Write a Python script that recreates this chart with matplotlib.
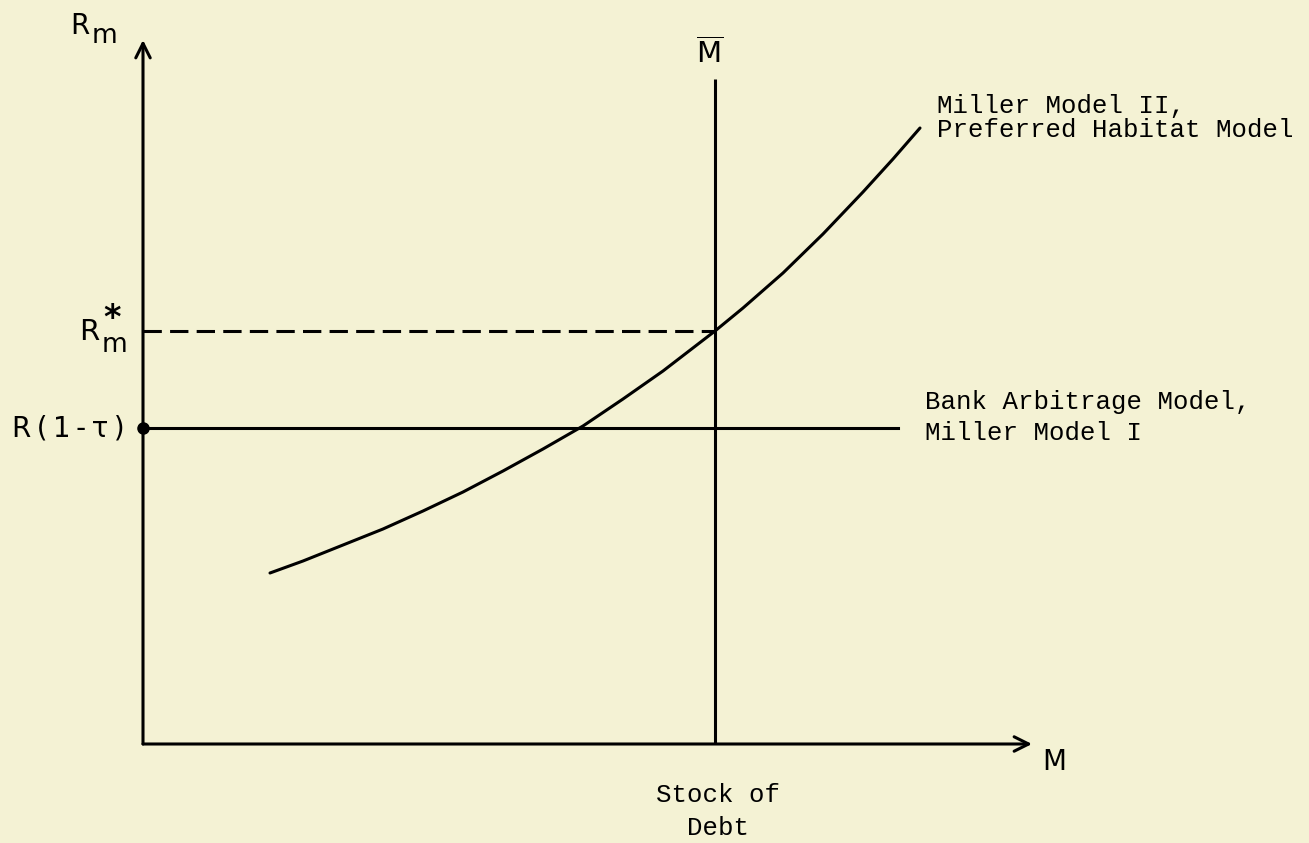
import matplotlib
matplotlib.use('Agg')
import matplotlib.pyplot as plt

plt.rcParams['mathtext.fontset'] = 'dejavusans'

# Miller Model II / preferred habitat curve (M, R_m)
curve_m = [12.7, 16.0, 20.0, 24.0, 28.0, 32.0, 36.0, 40.0, 44.0, 48.0,
           52.0, 57.2, 60.0, 64.0, 68.0, 72.0, 75.0, 77.7]
curve_r = [17.1, 18.3, 19.9, 21.5, 23.3, 25.2, 27.3, 29.5, 31.8, 34.5,
           37.3, 41.3, 43.6, 47.1, 51.0, 55.2, 58.5, 61.6]

m_bar = 57.2      # stock of debt
r_star = 41.3     # R*_m
r_tau = 31.6      # R(1-tau), bank arbitrage level
flat_end = 75.5   # where the flat line stops
x_axis_end = 88.9
y_axis_end = 70.4
m_bar_top = 66.5

bg = '#f4f2d4'
mono = 'Liberation Mono'
sans = 'DejaVu Sans'

fig = plt.figure(figsize=(13.09, 8.43), dpi=100)
fig.patch.set_facecolor(bg)
ax = fig.add_axes([0, 0, 1, 1])
ax.set_facecolor(bg)
ax.set_xlim(-14.3, 116.6)
ax.set_ylim(-9.9, 74.4)
ax.axis('off')

lw = 2.2

# axes with open arrow heads
arrow = dict(arrowstyle='->', lw=lw, color='black', mutation_scale=26,
             shrinkA=0, shrinkB=0)
ax.annotate('', xy=(0, y_axis_end), xytext=(0, 0), arrowprops=arrow)
ax.annotate('', xy=(x_axis_end, 0), xytext=(0, 0), arrowprops=arrow)

# vertical line at M bar
ax.plot([m_bar, m_bar], [0, m_bar_top], color='black', lw=lw, solid_capstyle='butt')

# dashed R*_m line
ax.plot([0, m_bar], [r_star, r_star], color='black', lw=lw,
        dashes=(6, 2.7))

# flat line R(1-tau)
ax.plot([0, flat_end], [r_tau, r_tau], color='black', lw=lw)
ax.plot([0], [r_tau], 'o', color='black', ms=8)

# upward sloping curve
ax.plot(curve_m, curve_r, color='black', lw=lw, solid_capstyle='round',
        solid_joinstyle='round')

# axis labels (subscripts drawn full size like the hand lettering)
ax.text(-7.3, 71.0, 'R', fontsize=20, family=sans, ha='left', va='baseline')
ax.text(-5.1, 70.1, 'm', fontsize=19, family=sans, ha='left', va='baseline')

ax.text(x_axis_end + 1.0, -2.6, 'M', fontsize=20, family=sans, ha='left',
        va='baseline')
ax.text(m_bar - 0.5, 68.1, r'$\overline{\mathrm{M}}$', fontsize=21,
        ha='center', va='baseline')

ax.text(-6.4, 40.4, 'R', fontsize=21, family=sans, ha='left', va='baseline')
ax.text(-4.1, 39.2, 'm', fontsize=19, family=sans, ha='left', va='baseline')
ax.text(-3.1, 41.6, '*', fontsize=24, family=sans, ha='center',
        va='baseline', fontweight='bold')

ax.text(-1.8, r_tau, 'R\u2009(\u20091\u2009-\u2009τ\u2009)', fontsize=20,
        family=sans, ha='right', va='center')

# curve labels
ax.text(79.4, 63.1, 'Miller Model II,', fontsize=18.5, family=mono,
        ha='left', va='baseline')
ax.text(79.4, 60.7, 'Preferred Habitat Model', fontsize=18.5, family=mono,
        ha='left', va='baseline')
ax.text(78.2, 33.5, 'Bank Arbitrage Model,', fontsize=18.5, family=mono,
        ha='left', va='baseline')
ax.text(78.2, 30.4, 'Miller Model I', fontsize=18.5, family=mono,
        ha='left', va='baseline')
ax.text(m_bar + 0.3, -5.8, 'Stock of', fontsize=18.5, family=mono,
        ha='center', va='baseline')
ax.text(m_bar + 0.3, -9.1, 'Debt', fontsize=18.5, family=mono,
        ha='center', va='baseline')

fig.savefig('out.png', dpi=100, facecolor=bg)
